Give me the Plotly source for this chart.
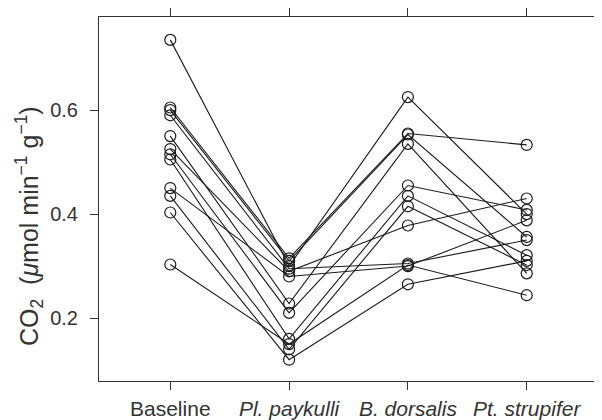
import plotly.graph_objects as go

categories = ["Baseline", "<i>Pl. paykulli</i>", "<i>B. dorsalis</i>", "<i>Pt. strupifer</i>"]
baseline = [0.735, 0.605, 0.600, 0.590, 0.550, 0.525, 0.515, 0.505, 0.450, 0.435, 0.403, 0.303]
paykulli = [0.300, 0.315, 0.310, 0.295, 0.228, 0.290, 0.210, 0.160, 0.280, 0.140, 0.120, 0.150]
dorsalis = [0.625, 0.555, 0.553, 0.305, 0.535, 0.378, 0.455, 0.435, 0.300, 0.415, 0.265, 0.302]
strupifer = [0.400, 0.533, 0.356, 0.350, 0.286, 0.430, 0.408, 0.321, 0.388, 0.302, 0.310, 0.244]
y_ticks = [0.2, 0.4, 0.6]

fig = go.Figure()
xpos = list(range(len(categories)))
for b, p, d, s in zip(baseline, paykulli, dorsalis, strupifer):
    fig.add_trace(go.Scatter(
        x=xpos, y=[b, p, d, s], mode="lines+markers",
        line=dict(color="#1a1a1a", width=1.1),
        marker=dict(symbol="circle-open", size=11, color="#1a1a1a", line=dict(width=1.2)),
        showlegend=False, hoverinfo="skip"))

font_family = "Liberation Sans, Arial, sans-serif"
title_text = ("CO<sub>2</sub> \u00a0(<i>μ</i>mol min<sup>−1</sup> "
              "g<sup>−1</sup>)")
fig.update_layout(
    width=594, height=412,
    margin=dict(l=91, r=4, t=9, b=39),
    paper_bgcolor="white", plot_bgcolor="white",
    font=dict(family=font_family, color="#333333", size=20),
    xaxis=dict(range=[-0.6, 3.6], tickvals=xpos, ticktext=categories,
               showgrid=False, zeroline=False, showline=True, linecolor="#333333",
               linewidth=1, mirror="ticks", ticks="outside", ticklen=8,
               tickcolor="#333333", tickfont=dict(size=21), automargin=False,
               ticklabelstandoff=1),
    yaxis=dict(range=[0.079, 0.779], tickvals=y_ticks, ticktext=["0.2", "0.4", "0.6"],
               showgrid=False, zeroline=False, showline=True, linecolor="#333333",
               linewidth=1, mirror=True, ticks="outside", ticklen=8,
               tickcolor="#333333", tickfont=dict(size=20), ticklabelstandoff=8,
               automargin=False),
    annotations=[dict(
        text=title_text,
        textangle=-90, xref="paper", yref="paper", x=-0.14, y=0.426,
        xanchor="center", yanchor="middle", showarrow=False,
        font=dict(size=25, family=font_family, color="#333333"))],
)

fig.write_html("out.html")
